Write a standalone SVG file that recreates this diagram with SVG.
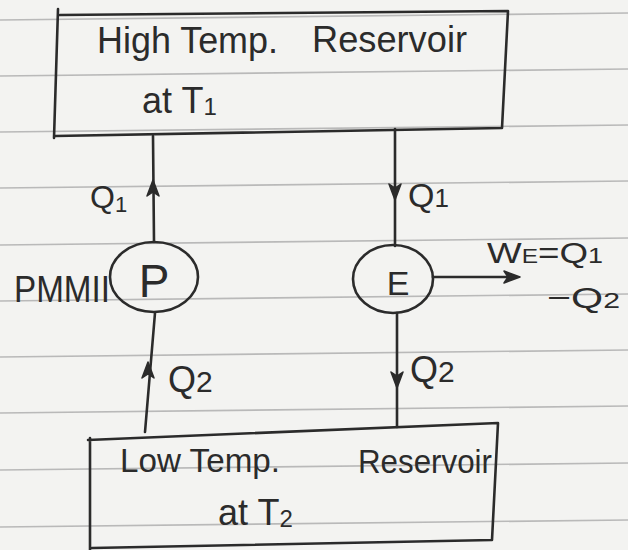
<svg xmlns="http://www.w3.org/2000/svg" width="628" height="550" viewBox="0 0 628 550">
<style>
.paper{fill:#f3f3f1}
.rule{stroke:#b9b9b9;stroke-width:1.6;fill:none}
.ink{stroke:#2b2b2b;stroke-width:2.6;fill:none;stroke-linecap:round;stroke-linejoin:round}
.head{fill:#2b2b2b;stroke:#2b2b2b;stroke-width:1.5;stroke-linejoin:round}
.t{font-family:"Liberation Sans",Arial,sans-serif;fill:#2b2b2b}
</style>
<defs>
<path id="ah" d="M0,-10 L6,6 L0,2 L-6,6 Z"/>
</defs>
<rect class="paper" x="0" y="0" width="628" height="550"/>
<g id="ruled-lines">
<line class="rule" x1="0" y1="20" x2="628" y2="13"/>
<line class="rule" x1="0" y1="76" x2="628" y2="69"/>
<line class="rule" x1="0" y1="132" x2="628" y2="125"/>
<line class="rule" x1="0" y1="188" x2="628" y2="181"/>
<line class="rule" x1="0" y1="245" x2="628" y2="238"/>
<line class="rule" x1="0" y1="301" x2="628" y2="294"/>
<line class="rule" x1="0" y1="357" x2="628" y2="350"/>
<line class="rule" x1="0" y1="413" x2="628" y2="406"/>
<line class="rule" x1="0" y1="470" x2="628" y2="463"/>
<line class="rule" x1="0" y1="527" x2="628" y2="520"/>
</g>
<g id="high-reservoir">
<path class="ink" d="M58,9 L54,138 M60,15 L508,11 L502,128 L55,136"/>
<text class="t" x="97" y="53" font-size="36" textLength="181" lengthAdjust="spacingAndGlyphs">High Temp.</text>
<text class="t" x="312" y="52" font-size="36" textLength="155" lengthAdjust="spacingAndGlyphs">Reservoir</text>
<text class="t" x="142" y="113" font-size="36">at T<tspan font-size="24" dy="2">1</tspan></text>
</g>
<g id="pump-P">
<ellipse class="ink" cx="154" cy="277" rx="44" ry="35"/>
<text class="t" x="154" y="297" font-size="46" text-anchor="middle">P</text>
<text class="t" x="14" y="302" font-size="36" textLength="96" lengthAdjust="spacingAndGlyphs">PMMII</text>
</g>
<g id="engine-E">
<ellipse class="ink" cx="393" cy="279" rx="40" ry="34"/>
<text class="t" x="398" y="295" font-size="34" text-anchor="middle">E</text>
</g>
<g id="low-reservoir">
<path class="ink" d="M90,438 L90,550 M88,440 L498,423 L492,540 L92,548"/>
<text class="t" x="120" y="472" font-size="34" textLength="160" lengthAdjust="spacingAndGlyphs">Low Temp.</text>
<text class="t" x="358" y="473" font-size="34" textLength="134" lengthAdjust="spacingAndGlyphs">Reservoir</text>
<text class="t" x="218" y="525" font-size="36">at T<tspan font-size="24" dy="2">2</tspan></text>
</g>
<g id="connectors">
<line class="ink" x1="153" y1="136" x2="154" y2="242"/>
<use href="#ah" class="head" transform="translate(153,190)"/>
<text class="t" x="90" y="208" font-size="32">Q<tspan font-size="22" dy="4">1</tspan></text>
<line class="ink" x1="395" y1="129" x2="395" y2="246"/>
<use href="#ah" class="head" transform="translate(395,190) rotate(180)"/>
<text class="t" x="408" y="207" font-size="34">Q<tspan font-size="26" dy="0">1</tspan></text>
<line class="ink" x1="155" y1="313" x2="145" y2="432"/>
<use href="#ah" class="head" transform="translate(148,372)"/>
<text class="t" x="168" y="392" font-size="36">Q<tspan font-size="30" dy="0">2</tspan></text>
<line class="ink" x1="397" y1="313" x2="397" y2="427"/>
<use href="#ah" class="head" transform="translate(397,378) rotate(180)"/>
<text class="t" x="410" y="382" font-size="36">Q<tspan font-size="30" dy="0">2</tspan></text>
<line class="ink" x1="433" y1="277" x2="512" y2="277"/>
<use href="#ah" class="head" transform="translate(510,277) rotate(90)"/>
<text class="t" x="487" y="263" font-size="30" textLength="116" lengthAdjust="spacingAndGlyphs">W<tspan font-size="20">E</tspan>=Q<tspan font-size="22">1</tspan></text>
<text class="t" x="547" y="308" font-size="30" textLength="73" lengthAdjust="spacingAndGlyphs">−Q<tspan font-size="22">2</tspan></text>
</g>
</svg>
